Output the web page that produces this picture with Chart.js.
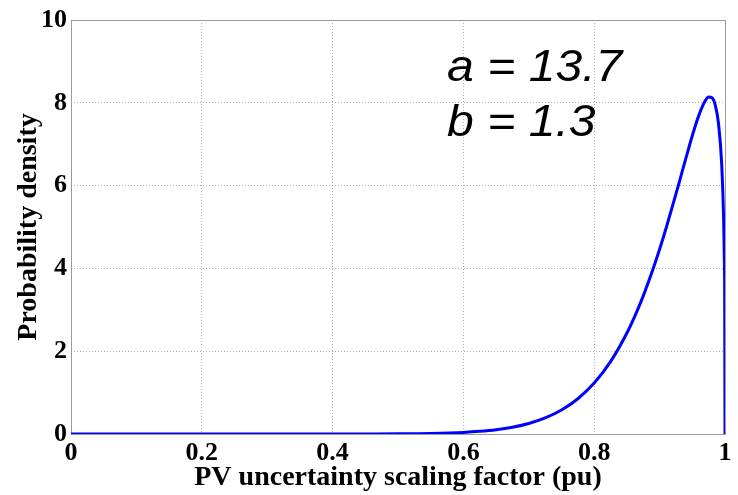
<!DOCTYPE html>
<html>
<head>
<meta charset="utf-8">
<script src="https://cdn.jsdelivr.net/npm/chart.js@4/dist/chart.umd.min.js"></script>
<style>
  body { margin: 0; background: #fff; }
  #wrap { width: 738px; height: 495px; }
</style>
</head>
<body>
<div id="wrap"><canvas id="betaPdf" width="738" height="495"></canvas></div>
<script>
// beta pdf, a = 13.7, b = 1.3
const scalingFactor = [0, 0.05, 0.1, 0.2, 0.3, 0.4, 0.45, 0.5, 0.55, 0.6, 0.625, 0.65, 0.675, 0.7,
  0.725, 0.75, 0.775, 0.8, 0.825, 0.85, 0.865, 0.875, 0.89, 0.9, 0.91, 0.925, 0.93, 0.94, 0.95,
  0.96, 0.97, 0.975, 0.98, 0.985, 0.99, 0.995, 0.998, 0.999, 0.9995, 1]
const density = [0, 0, 0, 0, 0, 0.0003, 0.0011, 0.0041, 0.0135, 0.039, 0.065, 0.104, 0.165, 0.255,
  0.388, 0.58, 0.852, 1.231, 1.748, 2.439, 2.951, 3.337, 3.986, 4.463, 4.977, 5.799, 6.08, 6.65, 7.205,
  7.696, 8.054, 8.139, 8.12, 7.95, 7.51, 6.5, 5.13, 4.22, 3.45, 0]
const xTicks = [0, 0.2, 0.4, 0.6, 0.8, 1]
const yTicks = [0, 2, 4, 6, 8, 10]
const paramLabels = ['a = 13.7', 'b = 1.3']

const points = scalingFactor.map((x, i) => ({ x: x, y: density[i] }))
const tickFont = { family: 'Liberation Serif', size: 26, weight: 'bold' }
const titleFont = { family: 'Liberation Serif', size: 28, weight: 'bold' }

// grey box round the plot area
const frame = {
  id: 'frame',
  beforeDatasetsDraw(chart) {
    const { ctx, chartArea: a } = chart
    ctx.save()
    ctx.strokeStyle = '#9a9a9a'
    ctx.lineWidth = 1
    ctx.strokeRect(a.left + 0.5, a.top + 0.5, a.right - a.left, a.bottom - a.top)
    ctx.restore()
  }
}

// parameter text in the upper right, slightly widened
const params = {
  id: 'params',
  afterDatasetsDraw(chart) {
    const ctx = chart.ctx
    ctx.save()
    ctx.fillStyle = '#000'
    ctx.font = 'italic 45px "Liberation Sans"'
    ctx.textBaseline = 'alphabetic'
    ctx.translate(447, 0)
    ctx.scale(1.07, 1)
    ctx.fillText(paramLabels[0], 0, 81)
    ctx.fillText(paramLabels[1], 0, 136)
    ctx.restore()
  }
}

new Chart(document.getElementById('betaPdf'), {
  type: 'line',
  data: {
    datasets: [{
      data: points,
      borderColor: '#0000ff',
      borderWidth: 3,
      pointRadius: 0,
      fill: false,
      cubicInterpolationMode: 'monotone'
    }]
  },
  options: {
    responsive: false,
    animation: false,
    layout: { padding: { top: 20, right: 13, left: 0, bottom: 0 } },
    plugins: { legend: { display: false }, tooltip: { enabled: false } },
    scales: {
      x: {
        type: 'linear',
        min: 0,
        max: 1,
        afterBuildTicks: s => { s.ticks = xTicks.map(v => ({ value: v })) },
        afterFit: s => { s.height = 61 },
        ticks: {
          color: '#000',
          font: tickFont,
          padding: 4,
          maxRotation: 0,
          callback: v => String(+v.toFixed(1))
        },
        grid: { color: '#b0b0b0', drawTicks: false },
        border: { display: false, dash: [1, 2] },
        title: {
          display: true,
          text: 'PV uncertainty scaling factor (pu)',
          color: '#000',
          font: titleFont,
          padding: { top: 0, bottom: 0 }
        }
      },
      y: {
        min: 0,
        max: 10,
        afterBuildTicks: s => { s.ticks = yTicks.map(v => ({ value: v })) },
        afterFit: s => { s.width = 71 },
        ticks: { color: '#000', font: tickFont, padding: 4 },
        grid: { color: '#b0b0b0', drawTicks: false },
        border: { display: false, dash: [1, 2] },
        title: {
          display: true,
          text: 'Probability density',
          color: '#000',
          font: titleFont,
          padding: { top: 12, bottom: 0 }
        }
      }
    }
  },
  plugins: [frame, params]
})
</script>
</body>
</html>
